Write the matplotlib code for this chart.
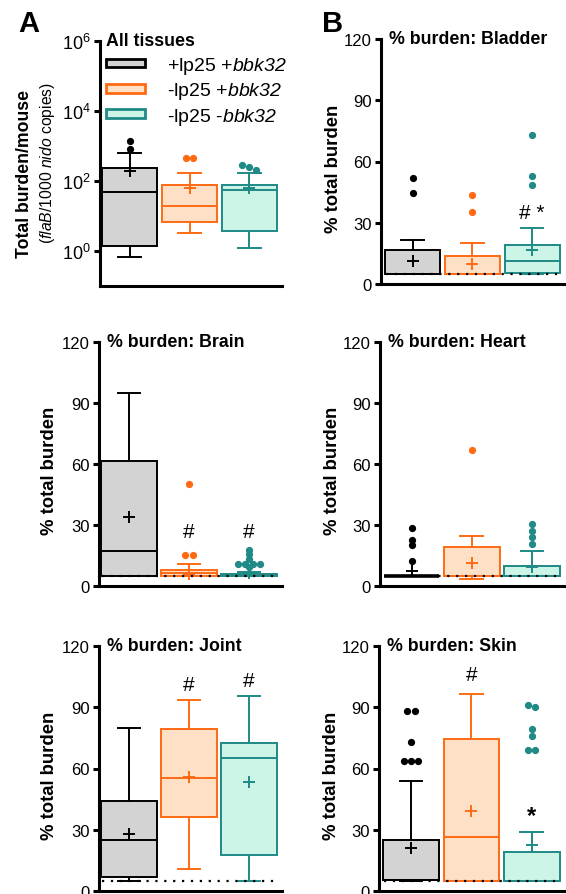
import numpy as np
import matplotlib
matplotlib.use("Agg")
import matplotlib.pyplot as plt
import matplotlib.patches as mpatches
from matplotlib.ticker import NullLocator

plt.rcParams['font.family'] = 'Liberation Sans'
plt.rcParams['mathtext.fontset'] = 'custom'
# digits inside \mathit fall back to rm, so keep rm italic too (ticks use \mathdefault)
plt.rcParams['mathtext.rm'] = 'Liberation Sans:italic'
plt.rcParams['mathtext.it'] = 'Liberation Sans:italic'
plt.rcParams['mathtext.bf'] = 'Liberation Sans:bold'

# groups
groups = ["+lp25 +$\\mathit{bbk32}$", "-lp25 +$\\mathit{bbk32}$", "-lp25 -$\\mathit{bbk32}$"]
edge_cols = ["#000000", "#ff6a13", "#1f8a86"]
fill_cols = ["#d3d3d3", "#fde0c6", "#cdf5e7"]

# panel A: total burden per mouse (log scale)
total_q1 = [1.4, 6.8, 3.7]
total_med = [49, 19.5, 55]
total_q3 = [235, 77, 77]
total_lo = [0.68, 3.2, 1.2]
total_hi = [630, 170, 170]
total_mean = [195, 63, 63]
total_out = [[1380, 820], [460, 460], [290, 250, 205]]

# panel B: % of total burden per tissue
tissues = ["Bladder", "Brain", "Heart", "Joint", "Skin"]
pct_q1 = [[5, 5, 5.4], [5, 5, 5], [5, 5, 5], [6.9, 36.3, 17.6], [5.5, 5, 5]]
pct_med = [[5, 5, 11.4], [17.2, 6.2, 5.5], [5, 5, 5], [25, 55.3, 65], [5.5, 26.5, 5]]
pct_q3 = [[16.7, 13.8, 19.2], [61.5, 7.9, 5.9], [5, 19.2, 10], [44, 79.4, 72.5], [25, 74.4, 19]]
pct_lo = [[5, 5, 5], [5, 5, 5], [5, 3.4, 5], [5, 11, 5], [5, 5, 5]]
pct_hi = [[21.5, 20, 27.4], [95, 10.8, 6.9], [5, 24.6, 17.2], [80, 93.6, 95.5], [53.7, 96.6, 29]]
pct_mean = [[11.2, 9.9, 16.8], [34, 6, 6.3], [7.5, 11.3, 9.4], [28, 55.8, 53.4], [21, 39, 22.6]]
pct_out = [
    [[52, 44.6], [43.4, 35.4], [73, 53, 48.6]],
    [[], [50, 15.2, 15.2], [17.9, 15.8, 13.2, 11, 11, 11, 11, 9.2]],
    [[28.5, 22.5, 20.0, 12.3], [67], [30.5, 27, 24, 20.5]],
    [[], [], []],
    [[88, 88, 73, 63.5, 63.5, 63.5], [], [91, 90, 79.3, 75.8, 69, 69]],
]
# significance marks: (text, group, y)
pct_marks = [
    [("# *", 2, 35)],
    [("#", 1, 27), ("#", 2, 27)],
    [],
    [("#", 1, 101), ("#", 2, 103)],
    [("#", 1, 106), ("*", 2, 37)],
]
detect_limit = 5

fig = plt.figure(figsize=(5.66, 8.95), dpi=100)


def add_ax(l, r, t, b):
    return fig.add_axes([l / 566, 1 - b / 895, (r - l) / 566, (b - t) / 895])


def style(ax, fs):
    for s in ['top', 'right']:
        ax.spines[s].set_visible(False)
    for s in ['left', 'bottom']:
        ax.spines[s].set_linewidth(2.2)
    ax.tick_params(axis='y', direction='out', length=4.5, width=2.2, labelsize=fs, pad=2)
    ax.set_xticks([])


def spread(vals, tol):
    # put near-equal outliers side by side, like prism does
    vals = sorted(vals, reverse=True)
    xs, ys = [], []
    i = 0
    while i < len(vals):
        j = i + 1
        while j < len(vals) and abs(tol(vals[j - 1], vals[j])) < 1:
            j += 1
        n = j - i
        off = (np.arange(n) - (n - 1) / 2) * 0.12
        xs += list(off)
        ys += vals[i:j]
        i = j
    return np.array(xs), np.array(ys)


def draw_boxes(ax, q1, med, q3, lo, hi, mean, outs, tol):
    for g in range(3):
        st = dict(med=med[g], q1=q1[g], q3=q3[g], whislo=lo[g], whishi=hi[g],
                  mean=mean[g], fliers=[])
        ec, fc = edge_cols[g], fill_cols[g]
        lw = 2.6 if q1[g] == q3[g] else 1.4  # collapsed box shows as a heavy line
        ax.bxp([st], positions=[g], widths=0.92, capwidths=0.38, showmeans=True,
               patch_artist=True, manage_ticks=False,
               boxprops=dict(facecolor=fc, edgecolor=ec, linewidth=lw),
               medianprops=dict(color=ec, linewidth=1.4),
               whiskerprops=dict(color=ec, linewidth=1.4),
               capprops=dict(color=ec, linewidth=1.4),
               meanprops=dict(marker='+', markeredgecolor=ec, markersize=9, markeredgewidth=1.4))
        if outs[g]:
            dx, ys = spread(outs[g], tol)
            ax.plot(g + dx, ys, 'o', color=ec, markersize=4.2, zorder=4)


# panel A
axA = add_ax(100, 282, 42, 287)
style(axA, 13)
axA.set_yscale('log')
draw_boxes(axA, total_q1, total_med, total_q3, total_lo, total_hi, total_mean, total_out,
           lambda a, b: (np.log10(a) - np.log10(b)) / 0.1)
axA.set_ylim(0.1, 1e6)
axA.set_xlim(-0.5, 2.55)
axA.set_yticks([1, 1e2, 1e4, 1e6])
axA.yaxis.set_minor_locator(NullLocator())
axA.text(0.033, 1.0, "All tissues", transform=axA.transAxes, ha='left', va='center',
         fontsize=12.8, fontweight='bold')
handles = [mpatches.Patch(facecolor=fill_cols[g], edgecolor=edge_cols[g], linewidth=2)
           for g in range(3)]
axA.legend(handles, groups, loc='upper left', bbox_to_anchor=(0.033, 0.943), frameon=False,
           fontsize=14, handlelength=2.0, handleheight=0.3, handletextpad=1.15,
           labelspacing=0.22, borderpad=0, borderaxespad=0)
fig.text(25 / 566, 1 - 174 / 895, "Total burden/mouse", rotation=90, ha='center', va='center',
         fontsize=12.7, fontweight='bold')
fig.text(48 / 566, 1 - 163 / 895, "($\\mathit{flaB}$/1000 $\\mathit{nido}$ copies)", rotation=90,
         ha='center', va='center', fontsize=11.3)

# panel B
boxes = {"Bladder": (381, 565, 40, 285), "Brain": (99, 282, 343, 587),
         "Heart": (380, 565, 343, 587), "Joint": (99, 282, 647, 892),
         "Skin": (379, 565, 647, 892)}
for k, name in enumerate(tissues):
    l, r, t, b = boxes[name]
    left_col = l < 200
    ax = add_ax(l, r, t, b)
    style(ax, 12)
    draw_boxes(ax, pct_q1[k], pct_med[k], pct_q3[k], pct_lo[k], pct_hi[k], pct_mean[k],
               pct_out[k], lambda a, b: (a - b) / 1.5)
    ax.set_ylim(0, 120)
    ax.set_yticks([0, 30, 60, 90, 120])
    ax.set_xlim(-0.5, 2.55) if left_col else ax.set_xlim(-0.53, 2.55)
    ax.hlines(detect_limit, -0.45, 2.45, colors='black', linewidth=1.6,
              linestyles=(0, (1, 3)), zorder=5)
    ax.text(0.045, 1.0, "% burden: " + name, transform=ax.transAxes, ha='left', va='center',
            fontsize=12.8, fontweight='bold')
    ax.set_ylabel("% total burden", fontsize=13.3, fontweight='bold')
    ax.yaxis.set_label_coords(-0.223 if left_col else -0.21, 0.475)
    for txt, g, y in pct_marks[k]:
        ax.text(g, y, txt, ha='center', va='center', fontsize=17 if txt == "*" else 15,
                fontweight='bold' if txt == "*" else 'normal')

fig.text(29 / 566, 1 - 24 / 895, "A", ha='center', va='center', fontsize=21, fontweight='bold')
fig.text(333 / 566, 1 - 24 / 895, "B", ha='center', va='center', fontsize=21, fontweight='bold')

fig.savefig("out.png", dpi=100)
